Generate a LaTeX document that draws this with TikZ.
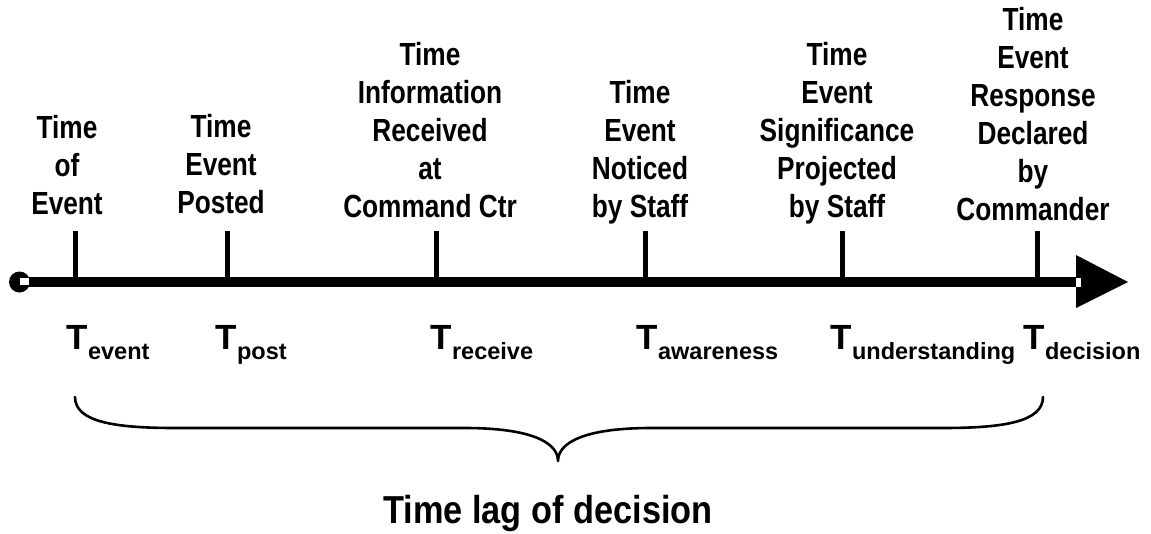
\documentclass[tikz,border=0pt]{standalone}
\usepackage{fontspec}
\usetikzlibrary{calc}
\setmainfont{Liberation Sans}
\newfontfamily\narrowbold[FakeStretch=0.82]{Liberation Sans Bold}
\newfontfamily\captionbold[FakeStretch=0.88]{Liberation Sans Bold}
\newfontfamily\widebold{Liberation Sans Bold}
\begin{document}
\begin{tikzpicture}[x=1pt,y=-1pt,
  heading/.style={font=\narrowbold\fontsize{32}{38}\selectfont, align=center,
    anchor=south, inner sep=0pt, execute at end node={\vphantom{y}}},
  tlabel/.style={font=\widebold\fontsize{35}{40}\selectfont, anchor=base west, inner sep=0pt},
  tickline/.style={line width=5pt},
  axisline/.style={line width=10.5pt},
  bracepath/.style={line width=2.6pt, line cap=round, line join=round}]
\useasboundingbox (0,0) rectangle (1151,533);
\newcommand{\sbs}[1]{\raisebox{-10pt}{\fontsize{23.5}{26}\selectfont #1}}

% axis with start dot and arrowhead
\coordinate (start) at (19.5,282);
\coordinate (end) at (1076,282);
\coordinate (tip) at (1128,282);
\draw[axisline] (start) -- (end);
\fill (start) circle (10.5);
\fill[white] (20,278) rectangle (29,284.5);
\fill ($(end)+(0,-27)$) -- (tip) -- ($(end)+(0,26)$) -- cycle;
\fill[white] (1076,277.5) rectangle (1081,287);

% tick marks
\foreach \n/\x in {t1/75, t2/227, t3/436, t4/645, t5/842, t6/1037} {
  \coordinate (\n top) at (\x,231);
  \coordinate (\n base) at (\x,282);
  \draw[tickline] (\n top) -- (\n base);
}

% headings above the ticks
\node[heading] (h1) at (67,221.7) {Time\\of\\Event};
\node[heading] (h2) at (221,220.7) {Time\\Event\\Posted};
\node[heading] (h3) at (430,224.7) {Time\\Information\\Received\\at\\Command Ctr};
\node[heading] (h4) at (640,224.7) {Time\\Event\\Noticed\\by Staff};
\node[heading] (h5) at (837,224.7) {Time\\Event\\Significance\\Projected\\by Staff};
\node[heading] (h6) at (1033,227.7) {Time\\Event\\Response\\Declared\\by\\Commander};

% time symbols below the axis
\node[tlabel] (l1) at (66.5,349) {T\sbs{event}};
\node[tlabel] (l2) at (215.5,349) {T\sbs{post}};
\node[tlabel] (l3) at (430.5,349) {T\sbs{receive}};
\node[tlabel] (l4) at (636.5,349) {T\sbs{awareness}};
\node[tlabel] (l5) at (830.5,349) {T\sbs{understanding}};
\node[tlabel] (l6) at (1023.5,349) {T\sbs{decision}};

% brace spanning the lag
\coordinate (bl) at (75,397);
\coordinate (bm) at (558,461);
\coordinate (br) at (1043,397);
\draw[bracepath] (bl) .. controls (75,422) and (115,428) .. (175,428)
  -- (465,428) .. controls (530,428) and (558,442) .. (bm)
  .. controls (558,442) and (586,428) .. (651,428)
  -- (943,428) .. controls (1003,428) and (1043,422) .. (br);

\node[font=\captionbold\fontsize{39}{44}\selectfont, anchor=base, inner sep=0pt]
  (lag) at (548,523) {Time lag of decision};
\end{tikzpicture}
\end{document}
